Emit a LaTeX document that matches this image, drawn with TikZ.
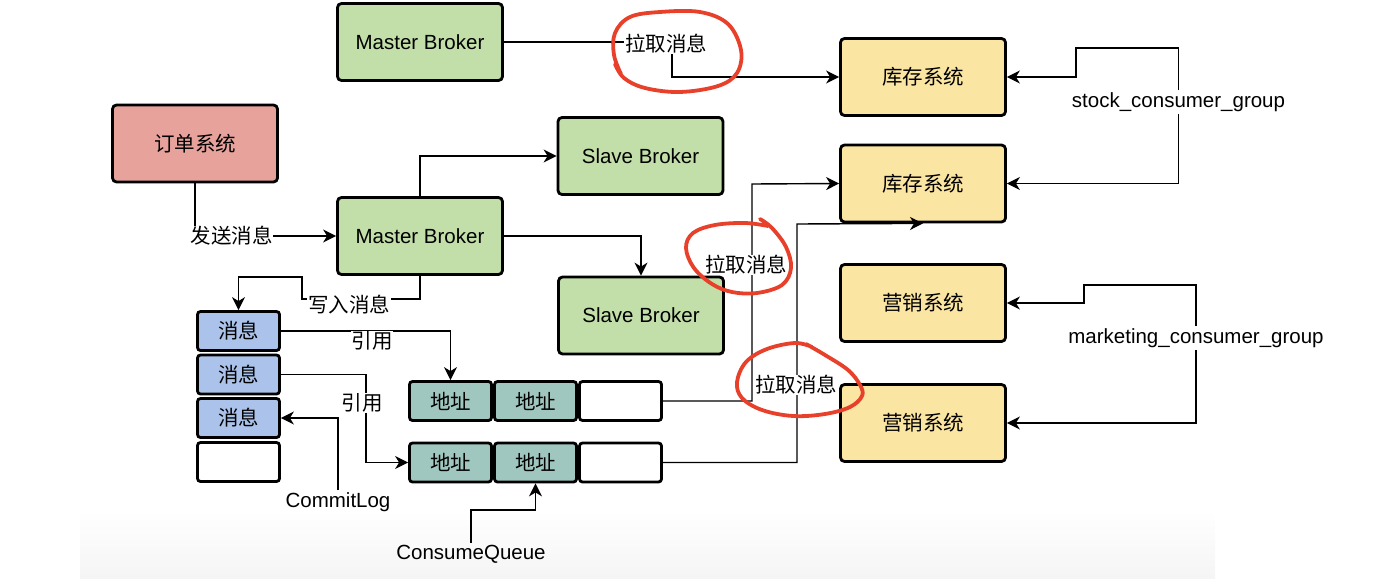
\documentclass[tikz,border=0pt]{standalone}
\usepackage{fontspec}
\setmainfont{Liberation Sans}
\newfontfamily\cjk{Noto Sans CJK SC}
\usetikzlibrary{arrows.meta,calc}
\definecolor{cred}{HTML}{E6A29B}
\definecolor{cgreen}{HTML}{C2DFA9}
\definecolor{cyellow}{HTML}{FBE5A2}
\definecolor{cblue}{HTML}{ABC3EA}
\definecolor{cteal}{HTML}{A0C7BF}
\definecolor{redpen}{HTML}{E8412B}
\newcommand\myfs{\fontsize{20.5pt}{24pt}\selectfont}
\begin{document}
\begin{tikzpicture}[x=1pt,y=-1pt,
  every node/.style={font=\myfs},
  box/.style={draw=black,line width=2.8pt,rounded corners=4pt,minimum width=165pt,minimum height=77pt,inner sep=0pt},
  cell/.style={draw=black,line width=2.8pt,rounded corners=3pt,minimum width=82pt,minimum height=39pt,inner sep=0pt},
  conn/.style={draw=black,line width=1.4pt,-{Stealth[length=13pt,width=13pt,inset=4pt]}},
  lbl/.style={fill=white,inner sep=0.6pt},
  txt/.style={inner sep=2pt},
  pen/.style={draw=redpen,line width=3.8pt,line cap=round,line join=round}]
\useasboundingbox (0,0) rectangle (1380,578);
\fill[top color=white,bottom color=black!4] (80,510) rectangle (1215,578);

% main boxes
\node[box,fill=cred] (order) at (195,143.5) {\cjk 订单系统};
\node[box,fill=cgreen] (mb1) at (420,42) {Master Broker};
\node[box,fill=cgreen] (mb2) at (420,236) {Master Broker};
\node[box,fill=cgreen] (sb1) at (640.5,156) {Slave Broker};
\node[box,fill=cgreen] (sb2) at (641,315.5) {Slave Broker};
\node[box,fill=cyellow] (st1) at (923,77) {\cjk 库存系统};
\node[box,fill=cyellow] (st2) at (923,183.5) {\cjk 库存系统};
\node[box,fill=cyellow] (mk1) at (923,303) {\cjk 营销系统};
\node[box,fill=cyellow] (mk2) at (923,423) {\cjk 营销系统};

% commit log
\node[cell,fill=cblue] (cl1) at (238.5,331) {\cjk 消息};
\node[cell,fill=cblue] (cl2) at (238.5,374.5) {\cjk 消息};
\node[cell,fill=cblue] (cl3) at (238.5,418) {\cjk 消息};
\node[cell,fill=white] (cl4) at (238.5,462) {};

% consume queues
\node[cell,fill=cteal] (q11) at (450.5,401) {\cjk 地址};
\node[cell,fill=cteal] (q12) at (535.5,401) {\cjk 地址};
\node[cell,fill=white] (q13) at (620.5,401) {};
\node[cell,fill=cteal] (q21) at (450.5,462.5) {\cjk 地址};
\node[cell,fill=cteal] (q22) at (535.5,462.5) {\cjk 地址};
\node[cell,fill=white] (q23) at (620.5,462.5) {};

% free labels
\node[txt] (cltext) at (338,502) {CommitLog};
\node[txt] (cqtext) at (471,554) {ConsumeQueue};
\node[txt] (sg) at (1178.5,102) {stock\_consumer\_group};
\node[txt] (mg) at (1196,338) {marketing\_consumer\_group};

% connectors
\draw[conn] (mb1.east) -| (672,77) -- (st1.west);
\node[lbl] (l1) at (666,44) {\cjk 拉取消息};

\draw[conn] (order.south) |- (mb2.west);
\node[lbl] (l2) at (231.5,236) {\cjk 发送消息};

\draw[conn] (mb2.north) |- (sb1.west);
\draw[conn] (mb2.east) -| (sb2.north);

\draw[conn] (mb2.south) |- (302,299) |- (cl1.north |- 0,277) -- (cl1.north);
\node[lbl] (l3) at (349,305) {\cjk 写入消息};

\draw[conn] (cl1.east) -| (q11.north);
\node[lbl] (l4) at (372,341) {\cjk 引用};
\draw[conn] (cl2.east) -| (366,462.5) -- (q21.west);
\node[lbl] (l5) at (362,403) {\cjk 引用};

\draw[conn] (cltext.north) |- (cl3.east);
\draw[conn] (cqtext.north) |- (q22.south |- 0,510) -- (q22.south);

\draw[conn] (q13.east) -| (752,184) -- (st2.west);
\node[lbl] (l6) at (746,265) {\cjk 拉取消息};
\draw[conn] (q23.east) -| (797,224) -- (st2.south);
\node[lbl] (l7) at (796,385) {\cjk 拉取消息};

\draw[conn] (sg.north) |- (1076,48) |- (st1.east);
\draw[conn] (sg.south) |- (st2.east);
\draw[conn] (mg.north) |- (1084,285) |- (mk1.east);
\draw[conn] (mg.south) |- (mk2.east);

% red hand-drawn circles
\draw[pen] plot[smooth,tension=0.6] coordinates {(621,74) (614,55) (615,33) (630,17) (660,12) (700,12) (728,24) (741,50) (737,73) (718,86) (680,92) (645,88) (624,78) (615,64)};
\draw[pen] plot[smooth,tension=0.6] coordinates {(760,219) (772,228) (786,247) (791,268) (782,285) (757,293) (732,292) (712,284) (694,268) (686,248) (693,233) (715,225) (745,223) (768,226)};
\draw[pen] plot[smooth,tension=0.6] coordinates {(806,344) (825,355) (848,370) (860,385) (862,396) (850,407) (825,414) (793,416) (762,410) (742,398) (737,382) (746,362) (767,349) (795,343) (812,347)};
\end{tikzpicture}
\end{document}
